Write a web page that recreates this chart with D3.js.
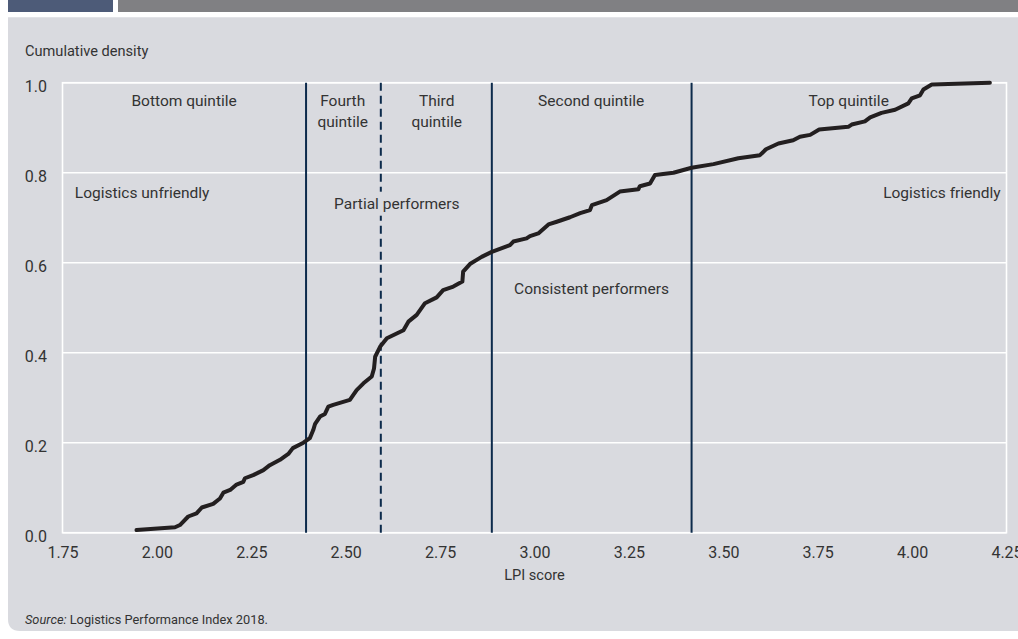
<!DOCTYPE html>
<html lang="en">
<head>
<meta charset="utf-8">
<title>LPI cumulative density</title>
<script src="https://cdn.jsdelivr.net/npm/d3@7/dist/d3.min.js"></script>
<style>
  body { margin: 0; background: #ffffff; }
  svg text { font-family: "Roboto", "Liberation Sans", sans-serif; fill: #333333; }
</style>
</head>
<body>
<script>
// cumulative distribution of LPI 2018 scores
var lpiScores = [1.946, 2.048, 2.061, 2.083, 2.105, 2.119, 2.149, 2.167, 2.176, 2.194,
  2.211, 2.229, 2.233, 2.255, 2.282, 2.299, 2.326, 2.348, 2.360, 2.388,
  2.405, 2.414, 2.419, 2.432, 2.445, 2.454, 2.467, 2.511, 2.529, 2.547,
  2.569, 2.575, 2.578, 2.591, 2.609, 2.653, 2.666, 2.688, 2.710, 2.741,
  2.758, 2.785, 2.809, 2.811, 2.829, 2.860, 2.887, 2.935, 2.944, 2.979,
  2.988, 3.010, 3.037, 3.059, 3.094, 3.121, 3.147, 3.152, 3.191, 3.226,
  3.275, 3.279, 3.306, 3.319, 3.368, 3.416, 3.474, 3.540, 3.597, 3.613,
  3.646, 3.685, 3.703, 3.730, 3.754, 3.831, 3.840, 3.875, 3.889, 3.919,
  3.955, 3.990, 3.999, 4.021, 4.030, 4.052, 4.206];
var cumDensity = [0.006, 0.012, 0.017, 0.036, 0.043, 0.056, 0.064, 0.076, 0.089, 0.095,
  0.107, 0.113, 0.121, 0.128, 0.139, 0.150, 0.162, 0.175, 0.188, 0.200,
  0.210, 0.228, 0.242, 0.258, 0.264, 0.280, 0.284, 0.295, 0.317, 0.332,
  0.347, 0.365, 0.391, 0.413, 0.432, 0.450, 0.469, 0.484, 0.510, 0.523,
  0.539, 0.547, 0.558, 0.580, 0.597, 0.613, 0.624, 0.639, 0.647, 0.654,
  0.659, 0.665, 0.685, 0.691, 0.701, 0.710, 0.717, 0.728, 0.739, 0.758,
  0.763, 0.770, 0.776, 0.795, 0.800, 0.811, 0.819, 0.832, 0.839, 0.852,
  0.865, 0.872, 0.880, 0.884, 0.896, 0.902, 0.907, 0.914, 0.923, 0.933,
  0.940, 0.954, 0.965, 0.972, 0.985, 0.996, 1.000];

// quintile boundaries (the middle one is drawn dashed)
var quintileCuts = [2.395, 2.593, 2.887, 3.416];
var dashedCut = [false, true, false, false];

var xTicks = [1.75, 2.00, 2.25, 2.50, 2.75, 3.00, 3.25, 3.50, 3.75, 4.00, 4.25];
var yTicks = [0.0, 0.2, 0.4, 0.6, 0.8, 1.0];

var quintileLabels = [["Bottom quintile"], ["Fourth", "quintile"], ["Third", "quintile"],
  ["Second quintile"], ["Top quintile"]];
var groupLabels = ["Logistics unfriendly", "Partial performers", "Consistent performers", "Logistics friendly"];

var yTitle = "Cumulative density";
var xTitle = "LPI score";
var sourceNote = "Logistics Performance Index 2018.";

var width = 1018;
var height = 639;
var panelColor = "#d9dadf";
var plotLeft = 62.5, plotRight = 1006.5, plotTop = 82.7, plotBottom = 532.7;

var x = d3.scaleLinear().domain([1.75, 4.25]).range([plotLeft, plotRight]);
var y = d3.scaleLinear().domain([0, 1]).range([plotBottom, plotTop]);

var svg = d3.select("body").append("svg")
  .attr("width", width)
  .attr("height", height);

// header strips
svg.append("rect").attr("x", 8).attr("y", 0).attr("width", 105).attr("height", 12).attr("fill", "#4d5b78");
svg.append("rect").attr("x", 118).attr("y", 0).attr("width", 900).attr("height", 12).attr("fill", "#808083");

// panel background with rounded bottom-left corner
svg.append("path")
  .attr("d", "M8,17.3 H1018 V631 H20 Q8,631 8,619 Z")
  .attr("fill", panelColor);

// grid
svg.append("g")
  .selectAll("line")
  .data(yTicks)
  .enter().append("line")
  .attr("x1", plotLeft).attr("x2", plotRight)
  .attr("y1", function(d) { return y(d); })
  .attr("y2", function(d) { return y(d); })
  .attr("stroke", "#ffffff")
  .attr("stroke-width", 1.6);

svg.append("rect")
  .attr("x", plotLeft).attr("y", plotTop)
  .attr("width", plotRight - plotLeft).attr("height", plotBottom - plotTop)
  .attr("fill", "none")
  .attr("stroke", "#ffffff")
  .attr("stroke-width", 1.6);

// axes (labels only, no domain or tick marks)
var xAxis = d3.axisBottom(x).tickValues(xTicks).tickFormat(d3.format(".2f")).tickSize(0).tickPadding(0);
var yAxis = d3.axisLeft(y).tickValues(yTicks).tickFormat(d3.format(".1f")).tickSize(0).tickPadding(0);

var gx = svg.append("g").attr("transform", "translate(0," + plotBottom + ")").call(xAxis);
gx.select(".domain").remove();
gx.selectAll("text")
  .attr("y", 25)
  .attr("dy", 0)
  .attr("font-size", 16)
  .attr("fill", "#333333");
gx.attr("font-family", null);

var gy = svg.append("g").attr("transform", "translate(47,0)").call(yAxis);
gy.select(".domain").remove();
gy.selectAll("text")
  .attr("x", 0)
  .attr("dy", "0.55em")
  .attr("font-size", 16)
  .attr("fill", "#333333");
gy.attr("font-family", null);

// quintile boundaries
svg.append("g")
  .selectAll("line")
  .data(quintileCuts)
  .enter().append("line")
  .attr("x1", function(d) { return x(d); })
  .attr("x2", function(d) { return x(d); })
  .attr("y1", plotTop)
  .attr("y2", plotBottom)
  .attr("stroke", "#0c2a4b")
  .attr("stroke-width", 2)
  .attr("stroke-dasharray", function(d, i) { return dashedCut[i] ? "8,5" : null; });

// the curve
var line = d3.line()
  .x(function(d) { return x(d[0]); })
  .y(function(d) { return y(d[1]); });

svg.append("path")
  .datum(d3.zip(lpiScores, cumDensity))
  .attr("d", line)
  .attr("fill", "none")
  .attr("stroke", "#231f20")
  .attr("stroke-width", 4)
  .attr("stroke-linejoin", "round")
  .attr("stroke-linecap", "round");

// quintile labels, centred inside each band
var quintileX = [2.072, 2.492, 2.741, 3.150, 3.832];
quintileLabels.forEach(function(lines, i) {
  var t = svg.append("text")
    .attr("text-anchor", "middle")
    .attr("font-size", 15.5)
    .attr("x", x(quintileX[i]))
    .attr("y", plotTop + 23);
  lines.forEach(function(s, j) {
    t.append("tspan")
      .attr("x", x(quintileX[i]))
      .attr("dy", j == 0 ? 0 : 21)
      .text(s);
  });
});

// performer group labels
var groupPos = [[1.961, 0.744], [2.641, 0.720], [3.151, 0.530], [4.079, 0.744]];
var groupText = svg.append("g")
  .selectAll("text")
  .data(groupLabels)
  .enter().append("text")
  .attr("text-anchor", "middle")
  .attr("font-size", 15.5)
  .attr("x", function(d, i) { return x(groupPos[i][0]); })
  .attr("y", function(d, i) { return y(groupPos[i][1]); })
  .text(function(d) { return d; });

// "Partial performers" sits across the dashed line: put the word gap on the line
// and mask the line behind the label
var partial = groupText.filter(function(d, i) { return i == 1; });
var pNode = partial.node();
var gap = groupLabels[1].indexOf(" ");
var before = pNode.getSubStringLength(0, gap);
var spaceW = pNode.getSubStringLength(gap, 1);
partial.attr("text-anchor", "start")
  .attr("x", x(quintileCuts[1]) - before - spaceW / 2);
var bb = pNode.getBBox();
svg.insert("rect", function() { return pNode.parentNode; })
  .attr("x", bb.x - 2).attr("y", bb.y - 3)
  .attr("width", bb.width + 4).attr("height", bb.height + 6)
  .attr("fill", panelColor);

// titles
svg.append("text")
  .attr("x", 25).attr("y", 56)
  .attr("font-size", 14.6)
  .text(yTitle);

svg.append("text")
  .attr("x", x(3.0)).attr("y", 580)
  .attr("text-anchor", "middle")
  .attr("font-size", 14.6)
  .text(xTitle);

var src = svg.append("text")
  .attr("x", 25).attr("y", 624)
  .attr("font-size", 12.8);
src.append("tspan").attr("font-style", "italic").text("Source:");
src.append("tspan").text(" " + sourceNote);
</script>
</body>
</html>
